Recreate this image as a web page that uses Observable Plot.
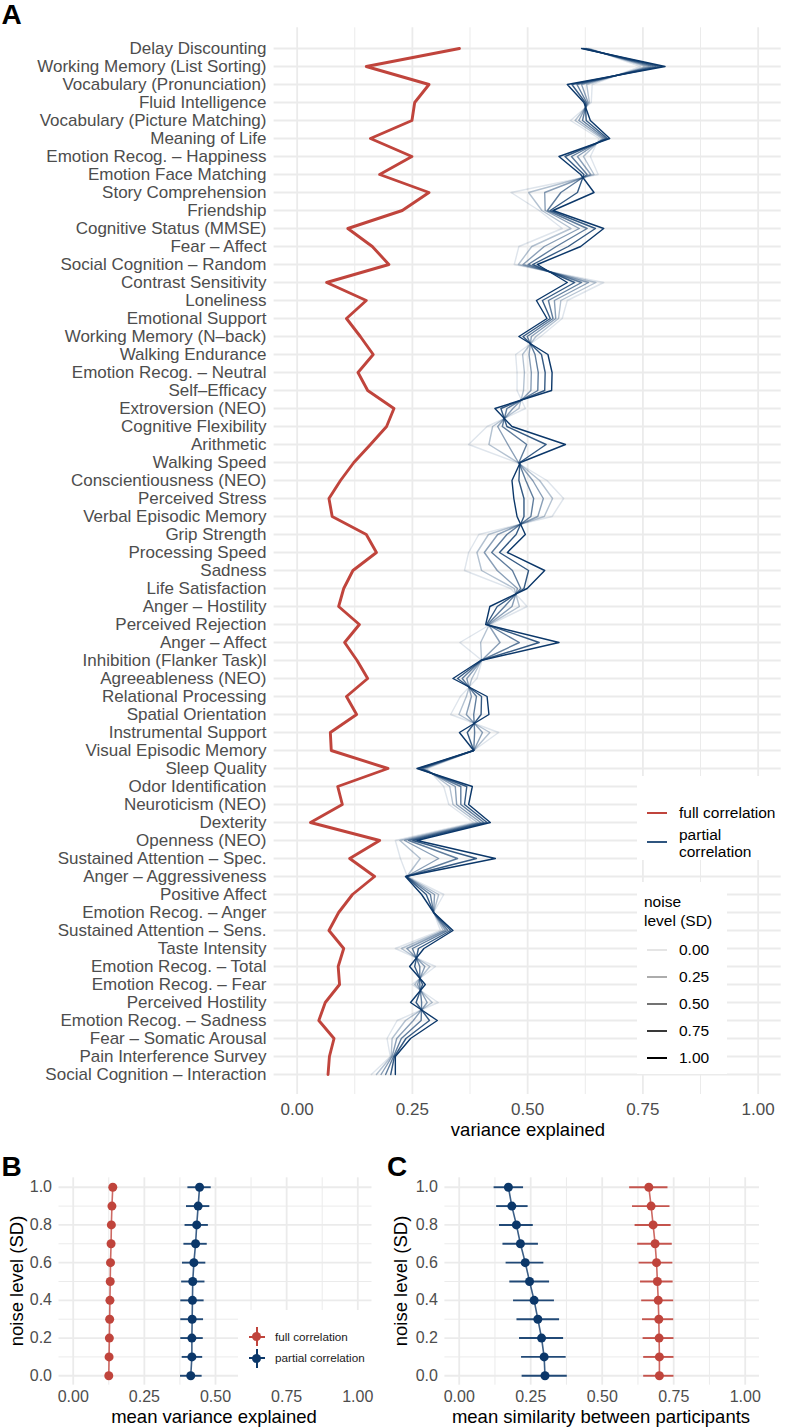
<!DOCTYPE html>
<html><head><meta charset="utf-8">
<script src="https://cdn.jsdelivr.net/npm/d3@7"></script>
<script src="https://cdn.jsdelivr.net/npm/@observablehq/plot@0.6"></script>
<style>
body{margin:0;background:#fff;}
#root{position:relative;width:786px;height:1428px;font-family:"Liberation Sans",Arial,Helvetica,sans-serif;overflow:hidden;background:#fff;}
.t{position:absolute;white-space:nowrap;line-height:1;}
svg{position:absolute;}
</style></head><body><div id="root"></div>
<script>
// ---------- DATA ----------
const categories = ["Delay Discounting","Working Memory (List Sorting)","Vocabulary (Pronunciation)","Fluid Intelligence","Vocabulary (Picture Matching)","Meaning of Life","Emotion Recog. – Happiness","Emotion Face Matching","Story Comprehension","Friendship","Cognitive Status (MMSE)","Fear – Affect","Social Cognition – Random","Contrast Sensitivity","Loneliness","Emotional Support","Working Memory (N–back)","Walking Endurance","Emotion Recog. – Neutral","Self–Efficacy","Extroversion (NEO)","Cognitive Flexibility","Arithmetic","Walking Speed","Conscientiousness (NEO)","Perceived Stress","Verbal Episodic Memory","Grip Strength","Processing Speed","Sadness","Life Satisfaction","Anger – Hostility","Perceived Rejection","Anger – Affect","Inhibition (Flanker Task)l","Agreeableness (NEO)","Relational Processing","Spatial Orientation","Instrumental Support","Visual Episodic Memory","Sleep Quality","Odor Identification","Neuroticism (NEO)","Dexterity","Openness (NEO)","Sustained Attention – Spec.","Anger – Aggressiveness","Positive Affect","Emotion Recog. – Anger","Sustained Attention – Sens.","Taste Intensity","Emotion Recog. – Total","Emotion Recog. – Fear","Perceived Hostility","Emotion Recog. – Sadness","Fear – Somatic Arousal","Pain Interference Survey","Social Cognition – Interaction"];

const fullCorrelation = [0.352,0.150,0.286,0.255,0.249,0.159,0.249,0.179,0.286,0.228,
 0.110,0.163,0.199,0.064,0.150,0.107,0.137,0.165,0.132,0.153,
 0.210,0.194,0.159,0.123,0.094,0.069,0.076,0.150,0.172,0.121,
 0.101,0.090,0.135,0.103,0.130,0.153,0.107,0.129,0.072,0.074,
 0.197,0.088,0.098,0.029,0.179,0.114,0.168,0.120,0.090,0.069,
 0.101,0.089,0.092,0.061,0.047,0.080,0.070,0.067];

const partialNoise00 = [0.635,0.745,0.640,0.638,0.593,0.655,0.636,0.653,0.464,0.525,
 0.575,0.481,0.471,0.665,0.586,0.575,0.528,0.474,0.477,0.477,
 0.495,0.412,0.372,0.477,0.542,0.578,0.553,0.394,0.372,0.363,
 0.463,0.499,0.419,0.353,0.401,0.390,0.354,0.333,0.437,0.383,
 0.282,0.318,0.329,0.383,0.213,0.224,0.239,0.318,0.296,0.311,
 0.213,0.300,0.249,0.306,0.217,0.195,0.202,0.161];
const partialNoise02 = [0.631,0.757,0.628,0.634,0.603,0.661,0.621,0.644,0.502,0.531,
 0.594,0.509,0.480,0.648,0.572,0.567,0.518,0.489,0.493,0.491,
 0.481,0.424,0.416,0.479,0.526,0.554,0.536,0.415,0.390,0.400,
 0.471,0.482,0.417,0.398,0.400,0.379,0.367,0.351,0.418,0.383,
 0.278,0.331,0.338,0.391,0.223,0.267,0.238,0.307,0.296,0.317,
 0.226,0.288,0.255,0.293,0.235,0.206,0.204,0.172];
const partialNoise04 = [0.627,0.767,0.617,0.631,0.611,0.665,0.608,0.637,0.537,0.538,
 0.612,0.536,0.490,0.632,0.558,0.561,0.508,0.503,0.508,0.507,
 0.468,0.435,0.457,0.480,0.511,0.534,0.522,0.435,0.406,0.434,
 0.478,0.466,0.415,0.440,0.400,0.368,0.378,0.367,0.402,0.383,
 0.273,0.343,0.346,0.398,0.233,0.307,0.237,0.298,0.296,0.322,
 0.238,0.277,0.261,0.282,0.252,0.216,0.206,0.182];
const partialNoise06 = [0.624,0.777,0.607,0.628,0.619,0.669,0.595,0.629,0.572,0.543,
 0.629,0.562,0.501,0.617,0.545,0.555,0.499,0.516,0.523,0.522,
 0.455,0.445,0.498,0.481,0.496,0.513,0.507,0.455,0.422,0.467,
 0.485,0.450,0.413,0.482,0.399,0.358,0.389,0.383,0.385,0.383,
 0.269,0.355,0.355,0.405,0.242,0.348,0.237,0.289,0.296,0.327,
 0.250,0.266,0.266,0.270,0.269,0.226,0.209,0.192];
const partialNoise08 = [0.620,0.788,0.596,0.625,0.627,0.673,0.581,0.622,0.608,0.549,
 0.647,0.588,0.511,0.602,0.532,0.549,0.490,0.530,0.538,0.537,
 0.442,0.455,0.540,0.483,0.481,0.492,0.492,0.475,0.439,0.502,
 0.492,0.434,0.411,0.525,0.399,0.348,0.400,0.399,0.369,0.383,
 0.264,0.368,0.363,0.412,0.251,0.389,0.236,0.280,0.296,0.333,
 0.263,0.255,0.272,0.258,0.287,0.236,0.211,0.203];
const partialNoise10 = [0.617,0.798,0.586,0.622,0.636,0.678,0.568,0.615,0.644,0.555,
 0.665,0.615,0.521,0.586,0.519,0.542,0.481,0.544,0.553,0.552,
 0.429,0.466,0.582,0.484,0.466,0.470,0.477,0.495,0.456,0.537,
 0.499,0.418,0.409,0.568,0.398,0.338,0.412,0.416,0.352,0.383,
 0.260,0.380,0.372,0.419,0.260,0.430,0.235,0.270,0.296,0.338,
 0.275,0.244,0.278,0.246,0.304,0.246,0.213,0.213];
const partialNoiseLevels = [0, 0.2, 0.4, 0.6, 0.8, 1.0];

const xTicks = [0, 0.25, 0.5, 0.75, 1];
const xMinor = [0.125, 0.375, 0.625, 0.875];
const noiseTicks = [0, 0.2, 0.4, 0.6, 0.8, 1.0];
const noiseMinor = [0.1, 0.3, 0.5, 0.7, 0.9];
const legendNoiseLabels = ["0.00", "0.25", "0.50", "0.75", "1.00"];

// Panel B: mean variance explained
const noiseLevels = [0, 0.1, 0.2, 0.3, 0.4, 0.5, 0.6, 0.7, 0.8, 0.9, 1.0];
const bFullMean = [0.125,0.126,0.127,0.128,0.129,0.130,0.131,0.133,0.134,0.136,0.139];
const bFullLo   = [0.118,0.119,0.120,0.121,0.122,0.123,0.124,0.126,0.127,0.129,0.132];
const bFullHi   = [0.132,0.133,0.134,0.135,0.136,0.137,0.138,0.140,0.141,0.143,0.146];
const bPartMean = [0.413,0.417,0.417,0.418,0.419,0.420,0.424,0.430,0.434,0.439,0.444];
const bPartLo   = [0.377,0.383,0.378,0.378,0.378,0.381,0.384,0.389,0.393,0.398,0.403];
const bPartHi   = [0.453,0.455,0.457,0.458,0.460,0.463,0.466,0.471,0.475,0.480,0.485];

// Panel C: mean similarity between participants
const cPartMean = [0.300,0.297,0.288,0.275,0.262,0.246,0.231,0.214,0.200,0.184,0.172];
const cPartLo   = [0.220,0.218,0.211,0.202,0.190,0.177,0.164,0.153,0.141,0.131,0.122];
const cPartHi   = [0.378,0.374,0.365,0.351,0.333,0.316,0.296,0.277,0.259,0.241,0.225];
const cFullMean = [0.700,0.700,0.699,0.698,0.696,0.693,0.690,0.685,0.678,0.671,0.663];
const cFullLo   = [0.645,0.645,0.643,0.641,0.638,0.634,0.629,0.624,0.615,0.606,0.596];
const cFullHi   = [0.751,0.751,0.751,0.750,0.750,0.748,0.747,0.745,0.741,0.737,0.730];

// ---------- STYLE ----------
const RED = "#c0443c";
const NAVY = "#0b3769";
const GRID = "#ebebeb";
const FONT = "'Liberation Sans', Arial, Helvetica, sans-serif";
const root = document.getElementById("root");

function place(el, left, top) { el.style.left = left + "px"; el.style.top = top + "px"; root.appendChild(el); return el; }
function text(str, x, y, o = {}) {
  const d = document.createElement("div");
  d.className = "t"; d.textContent = str;
  d.style.fontSize = (o.size || 16) + "px";
  d.style.color = o.color || "#000";
  if (o.bold) d.style.fontWeight = "bold";
  d.style.transform = o.transform || "translate(-50%,-50%)";
  if (o.lineHeight) { d.style.lineHeight = o.lineHeight; d.style.whiteSpace = "pre"; }
  return place(d, x, y);
}
function box(x, y, w, h, bg, o = {}) {
  const d = document.createElement("div");
  d.style.position = "absolute"; d.style.width = w + "px"; d.style.height = h + "px";
  d.style.background = bg; if (o.opacity != null) d.style.opacity = o.opacity;
  if (o.round) d.style.borderRadius = "50%";
  return place(d, x, y);
}

// ---------- PANEL A ----------
const redRows = fullCorrelation.map((v, i) => ({cat: categories[i], v}));
const partialSeries = [partialNoise00, partialNoise02, partialNoise04, partialNoise06, partialNoise08, partialNoise10];
const blueMarks = partialSeries.map((vals, k) =>
  Plot.line(vals.map((v, i) => ({cat: categories[i], v})), {
    x: "v", y: "cat", stroke: NAVY,
    strokeOpacity: 0.13 + 0.87 * partialNoiseLevels[k],
    strokeWidth: 1.4
  }));

const plotA = Plot.plot({
  width: 786, height: 1145,
  marginLeft: 273.6, marginRight: 5.3, marginTop: 27.3, marginBottom: 51,
  style: {fontFamily: FONT, fontSize: "17px", color: "#4d4d4d", background: "transparent", overflow: "visible"},
  x: {domain: [-0.05, 1.05], ticks: xTicks, tickFormat: d3.format(".2f"), tickSize: 0, tickPadding: 8, label: null},
  y: {type: "point", domain: categories, padding: 0.6, tickSize: 0, tickPadding: 7.6, label: null},
  marks: [
    Plot.ruleX(xMinor, {stroke: GRID, strokeWidth: 1}),
    Plot.ruleX(xTicks, {stroke: GRID, strokeWidth: 1.8}),
    Plot.ruleY(categories, {y: d => d, stroke: GRID, strokeWidth: 1.8}),
    Plot.line(redRows, {x: "v", y: "cat", stroke: RED, strokeWidth: 2.9}),
    ...blueMarks
  ]
});
plotA.style.left = "0px"; plotA.style.top = "0px";
root.appendChild(plotA);

text("A", 1.5, 1.3, {size: 28, bold: true, transform: "none"});
text("variance explained", 528, 1130, {size: 18.5});

// Legend A (line type)
box(637, 776, 149, 84, "#fff");
box(647, 812.3, 20, 1.4, RED);
text("full correlation", 679, 813, {size: 15.5, transform: "translate(0,-50%)"});
box(647, 841.3, 20, 1.4, NAVY, {opacity: 0.85});
text("partial\ncorrelation", 679, 842.5, {size: 15.5, transform: "translate(0,-50%)", lineHeight: "17px"});
// Legend A (noise)
box(637, 882, 90, 192, "#fff");
text("noise\nlevel (SD)", 644, 910.5, {size: 15.5, transform: "translate(0,-50%)", lineHeight: "19.5px"});
legendNoiseLabels.forEach((lab, k) => {
  const y = 950 + k * 27;
  box(647, y - 0.7, 20, 1.4, "#000", {opacity: 0.1 + 0.9 * (+lab)});
  text(lab, 679, y, {size: 15.5, transform: "translate(0,-50%)"});
});

// ---------- PANELS B & C ----------
function rows(mean, lo, hi) { return noiseLevels.map((n, i) => ({n, m: mean[i], lo: lo[i], hi: hi[i]})); }
function seriesMarks(data, color) {
  return [
    Plot.line(data, {x: "m", y: "n", stroke: color, strokeWidth: 1.6, strokeOpacity: 0.8}),
    Plot.ruleY(data, {y: "n", x1: "lo", x2: "hi", stroke: color, strokeWidth: 1.9, strokeOpacity: 0.9}),
    Plot.dot(data, {x: "m", y: "n", r: 4.5, fill: color, stroke: "none"})
  ];
}
function smallPlot(marginLeft, marginRight, series) {
  return Plot.plot({
    width: 393, height: 278,
    marginLeft, marginRight, marginTop: 27.3, marginBottom: 43.3,
    style: {fontFamily: FONT, fontSize: "16px", color: "#4d4d4d", background: "transparent", overflow: "visible"},
    x: {domain: [-0.05, 1.05], ticks: xTicks, tickFormat: d3.format(".2f"), tickSize: 0, tickPadding: 5.5, label: null},
    y: {domain: [-0.05, 1.05], ticks: noiseTicks, tickFormat: d3.format(".1f"), tickSize: 0, tickPadding: 7, label: null},
    marks: [
      Plot.ruleX(xMinor, {stroke: GRID, strokeWidth: 1}),
      Plot.ruleY(noiseMinor, {stroke: GRID, strokeWidth: 1}),
      Plot.ruleX(xTicks, {stroke: GRID, strokeWidth: 1.8}),
      Plot.ruleY(noiseTicks, {stroke: GRID, strokeWidth: 1.8}),
      ...series
    ]
  });
}

const plotB = smallPlot(58.5, 21.5, [
  ...seriesMarks(rows(bFullMean, bFullLo, bFullHi), RED),
  ...seriesMarks(rows(bPartMean, bPartLo, bPartHi), NAVY)
]);
plotB.style.left = "0px"; plotB.style.top = "1150px";
root.appendChild(plotB);

const plotC = smallPlot(51.4, 27, [
  ...seriesMarks(rows(cPartMean, cPartLo, cPartHi), NAVY),
  ...seriesMarks(rows(cFullMean, cFullLo, cFullHi), RED)
]);
plotC.style.left = "393px"; plotC.style.top = "1150px";
root.appendChild(plotC);

text("B", 1.5, 1153.3, {size: 28, bold: true, transform: "none"});
text("C", 387, 1153.3, {size: 28, bold: true, transform: "none"});
text("noise level (SD)", 17, 1281, {size: 18.5, transform: "translate(-50%,-50%) rotate(-90deg)"});
text("noise level (SD)", 401, 1281, {size: 18.5, transform: "translate(-50%,-50%) rotate(-90deg)"});
text("mean variance explained", 214, 1417, {size: 18.5});
text("mean similarity between participants", 601, 1417, {size: 18.5});

// Legend B
box(238, 1310, 133.5, 75, "#fff");
[[RED, "full correlation", 1336.7], [NAVY, "partial correlation", 1358.3]].forEach(([c, lab, y]) => {
  box(248.5, y - 0.9, 16.5, 1.8, c);
  box(256, y - 9.5, 1.8, 19, c);
  box(252.4, y - 4.5, 9, 9, c, {round: true});
  text(lab, 275, y, {size: 11.7, color: "#1a1a1a", transform: "translate(0,-50%)"});
});
</script></body></html>
